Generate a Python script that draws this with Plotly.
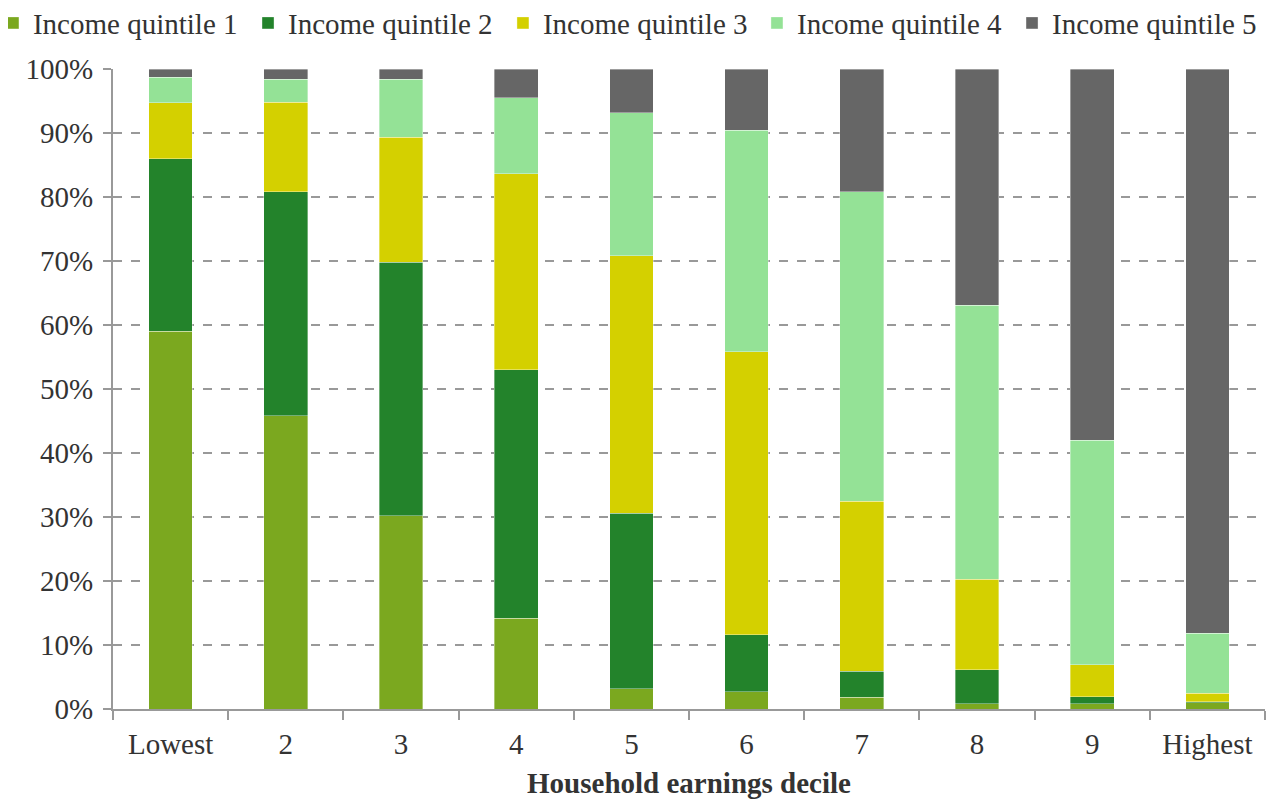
import plotly.graph_objects as go

categories = ["Lowest", "2", "3", "4", "5", "6", "7", "8", "9", "Highest"]
series_names = ["Income quintile 1", "Income quintile 2", "Income quintile 3",
                "Income quintile 4", "Income quintile 5"]
q1 = [59.0, 45.8, 30.2, 14.2, 3.2, 2.7, 1.8, 0.8, 0.8, 1.0]
q2 = [27.0, 35.0, 39.6, 38.8, 27.4, 8.9, 4.1, 5.3, 1.1, 0.1]
q3 = [8.7, 14.0, 19.5, 30.6, 40.2, 44.2, 26.6, 14.2, 5.0, 1.4]
q4 = [4.0, 3.6, 9.1, 11.9, 22.4, 34.6, 48.3, 42.8, 35.1, 9.3]
q5 = [1.3, 1.6, 1.6, 4.5, 6.8, 9.6, 19.2, 36.9, 58.0, 88.2]
y_ticks = [0, 10, 20, 30, 40, 50, 60, 70, 80, 90, 100]
y_tick_labels = [f"{v}%" for v in y_ticks]
colors = ["#7BA81F", "#23832B", "#D4D000", "#94E296", "#666666"]

font_family = "Liberation Serif, Times New Roman, serif"
text_color = "#333333"
fs = 29

# one single-item legend per series, placed side by side in a row
legend_ids = ["legend", "legend2", "legend3", "legend4", "legend5"]
legend_x = [-0.1042, 0.1172, 0.3385, 0.5590, 0.7804]

fig = go.Figure()
for name, vals, col, lid in zip(series_names, [q1, q2, q3, q4, q5], colors, legend_ids):
    fig.add_trace(go.Bar(
        x=categories, y=vals, name=name, legend=lid, showlegend=True,
        marker=dict(color=col, line=dict(color="rgba(255,255,255,0.6)", width=0.6)),
    ))

legend_common = dict(
    orientation="h",
    xref="paper", yref="container",
    y=0.981, xanchor="left", yanchor="middle",
    font=dict(size=fs, color=text_color),
    itemwidth=30,
    bgcolor="rgba(0,0,0,0)",
)
legend_layout = {lid: dict(legend_common, x=lx) for lid, lx in zip(legend_ids, legend_x)}

fig.update_layout(
    showlegend=True,
    barmode="stack",
    bargap=0.62,
    width=1270, height=791,
    margin=dict(l=105, r=13, t=61, b=90, autoexpand=False),
    paper_bgcolor="white", plot_bgcolor="white",
    font=dict(family=font_family, size=fs, color=text_color),
    xaxis=dict(
        type="category",
        showline=True, linecolor="#999999", linewidth=2,
        ticks="outside", tickson="boundaries", ticklen=9, tickcolor="#999999", tickwidth=2,
        showgrid=False,
        ticklabelstandoff=8,
        tickfont=dict(size=fs, color=text_color),
        title=dict(text="<b>Household earnings decile</b>", font=dict(size=fs, color=text_color), standoff=18),
    ),
    yaxis=dict(
        range=[0, 100],
        tickvals=y_ticks,
        ticktext=y_tick_labels,
        showline=True, linecolor="#999999", linewidth=2,
        ticks="outside", ticklen=8, tickcolor="#999999", tickwidth=2,
        showgrid=True, gridcolor="#999999", gridwidth=1.5, griddash="dash",
        zeroline=False,
        ticklabelstandoff=4,
        tickfont=dict(size=fs, color=text_color),
    ),
    **legend_layout,
)

fig.write_html("out.html")
